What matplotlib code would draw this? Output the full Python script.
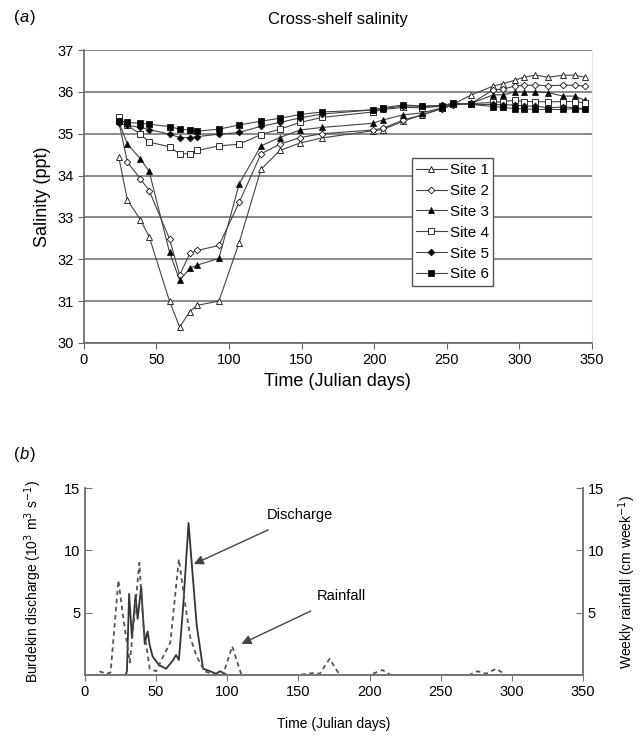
import matplotlib
matplotlib.use("Agg")
import matplotlib.pyplot as plt

plt.rcParams['font.family'] = ['Liberation Sans', 'DejaVu Sans']

# ---- panel (a): cross-shelf salinity ----
days = [24, 30, 39, 45, 59, 66, 73, 78, 93, 107, 122, 135, 149, 164,
        199, 206, 220, 233, 247, 254, 267, 282, 289, 297, 303, 311, 320, 330, 338, 345]

site1 = [34.45, 33.42, 32.94, 32.54, 31.0, 30.38, 30.75, 30.9, 31.0, 32.4, 34.15, 34.6, 34.78, 34.9,
         35.07, 35.1, 35.3, 35.45, 35.62, 35.7, 35.93, 36.14, 36.2, 36.28, 36.35, 36.4, 36.35, 36.4, 36.4, 36.35]
site2 = [35.3, 34.32, 33.92, 33.64, 32.49, 31.62, 32.14, 32.21, 32.33, 33.36, 34.52, 34.75, 34.91, 35.0,
         35.09, 35.13, 35.33, 35.45, 35.6, 35.68, 35.73, 36.05, 36.07, 36.14, 36.16, 36.16, 36.15, 36.16, 36.16, 36.14]
site3 = [35.3, 34.75, 34.4, 34.1, 32.17, 31.5, 31.78, 31.86, 32.02, 33.8, 34.71, 34.91, 35.09, 35.15,
         35.25, 35.33, 35.45, 35.5, 35.62, 35.7, 35.73, 35.93, 35.93, 36.0, 36.0, 36.0, 35.98, 35.9, 35.9, 35.8]
site4 = [35.4, 35.2, 34.99, 34.8, 34.69, 34.52, 34.52, 34.6, 34.71, 34.75, 34.98, 35.11, 35.27, 35.39,
         35.52, 35.58, 35.63, 35.62, 35.66, 35.72, 35.72, 35.75, 35.77, 35.8, 35.77, 35.77, 35.76, 35.77, 35.77, 35.73]
site5 = [35.25, 35.2, 35.15, 35.1, 34.99, 34.91, 34.91, 34.93, 34.99, 35.03, 35.18, 35.27, 35.38, 35.47,
         35.57, 35.6, 35.66, 35.66, 35.68, 35.72, 35.7, 35.7, 35.69, 35.69, 35.66, 35.66, 35.62, 35.64, 35.62, 35.6]
site6 = [35.3, 35.27, 35.25, 35.23, 35.17, 35.11, 35.09, 35.06, 35.11, 35.21, 35.3, 35.37, 35.46, 35.52,
         35.57, 35.62, 35.69, 35.66, 35.65, 35.74, 35.7, 35.65, 35.63, 35.6, 35.6, 35.58, 35.58, 35.58, 35.6, 35.58]

sites = [site1, site2, site3, site4, site5, site6]
site_names = ["Site 1", "Site 2", "Site 3", "Site 4", "Site 5", "Site 6"]
markers = [("^", "white", 4.8), ("D", "white", 3.4), ("^", "black", 4.8),
           ("s", "white", 4.5), ("D", "black", 3.4), ("s", "black", 4.8)]

# ---- panel (b): discharge and rainfall ----
dis_days = [0, 28.5, 29.5, 31, 33, 35.5, 37, 39.5, 42, 44, 45.5, 47.5, 52, 57, 62, 64, 66,
            69, 72.8, 75, 78.5, 83, 88, 92, 95, 100, 350]
dis_vals = [0, 0, 0.3, 6.5, 3.0, 6.4, 4.5, 7.1, 2.5, 3.5, 2.4, 1.5, 0.8, 0.5, 1.2, 1.6, 1.2,
            5.5, 12.2, 9.0, 4.0, 0.5, 0.3, 0.1, 0.3, 0, 0]

rain_days = [0, 8, 10, 15, 18, 23.5, 27, 31.5, 35, 38.2, 41, 45.5, 50, 55, 60, 66, 70, 74,
             78.5, 84, 92, 97, 103.5, 110, 150, 160, 165, 172, 179, 200, 209, 215,
             270, 276, 282, 289, 296, 350]
rain_vals = [0, 0, 0.3, 0.1, 0.2, 7.6, 4.5, 1.0, 5.0, 9.0, 4.0, 0.5, 0.3, 1.5, 2.6, 9.3, 6.0, 3.0,
             1.5, 0.3, 0, 0, 2.3, 0, 0, 0.15, 0.1, 1.3, 0, 0, 0.4, 0,
             0, 0.3, 0.1, 0.5, 0, 0]

fig = plt.figure(figsize=(6.4, 7.36), dpi=100)

ax = fig.add_axes([0.131, 0.534, 0.794, 0.398])
for vals, name, (m, fc, ms) in zip(sites, site_names, markers):
    ax.plot(days, vals, color="#444444", lw=0.8, marker=m, markersize=ms,
            markerfacecolor=fc, markeredgecolor="#111111", markeredgewidth=0.6, label=name)
ax.set_xlim(0, 350)
ax.set_ylim(30, 37)
ax.set_xticks(range(0, 351, 50))
ax.set_yticks(range(30, 38))
ax.grid(axis="y", color="#777777", lw=1.2)
ax.set_axisbelow(True)
for s in ["left", "bottom"]:
    ax.spines[s].set_color("#666666")
    ax.spines[s].set_linewidth(1.2)
ax.spines["top"].set_visible(False)
ax.spines["right"].set_color("#e6e6e6")
ax.tick_params(labelsize=10.5, color="#666666", length=4)
ax.set_ylabel("Salinity (ppt)", fontsize=13)
ax.set_xlabel("Time (Julian days)", fontsize=13)
ax.set_title("Cross-shelf salinity", fontsize=12, pad=19)
leg = ax.legend(loc="upper left", bbox_to_anchor=(0.645, 0.63), fontsize=11,
                frameon=True, fancybox=False, edgecolor="#555555", framealpha=1,
                handlelength=2.0, handletextpad=0.2, borderpad=0.3, labelspacing=0.45,
                borderaxespad=0)
fig.text(0.022, 0.976, "(", fontsize=12, va="center")
fig.text(0.031, 0.976, "a", fontsize=12, va="center", style="italic")
fig.text(0.047, 0.976, ")", fontsize=12, va="center")

bx = fig.add_axes([0.1328, 0.0829, 0.778, 0.254])
bx.plot(dis_days, dis_vals, color="#333333", lw=1.3)
bx2 = bx.twinx()
bx2.plot(rain_days, rain_vals, color="#555555", lw=1.3, ls=(0, (2.5, 2)))
for a in (bx, bx2):
    a.set_ylim(0, 15)
    a.set_yticks([5, 10, 15])
    a.spines["top"].set_visible(False)
    for s in ["left", "right", "bottom"]:
        a.spines[s].set_color("#777777")
        a.spines[s].set_linewidth(1.2)
    a.tick_params(axis="y", direction="in", labelsize=10.5, color="#777777", length=5)
bx.set_xlim(0, 350)
bx.set_xticks(range(0, 351, 50))
bx.tick_params(axis="x", labelsize=10.5, color="#777777", length=4)
bx.set_ylabel("Burdekin discharge (10$^3$ m$^3$ s$^{-1}$)", fontsize=10, labelpad=14)
bx2.set_ylabel("Weekly rainfall (cm week$^{-1}$)", fontsize=10, labelpad=9)
bx.set_xlabel("Time (Julian days)", fontsize=10, labelpad=13)

bx.annotate("Discharge", xy=(76.5, 8.9), xytext=(127.5, 12.8), fontsize=10.5, va="center",
            arrowprops=dict(arrowstyle="-|>", color="#444444", lw=1.0, shrinkA=8, shrinkB=0,
                            mutation_scale=14))
bx.annotate("Rainfall", xy=(110, 2.5), xytext=(163, 6.3), fontsize=10.5, va="center",
            arrowprops=dict(arrowstyle="-|>", color="#444444", lw=1.0, shrinkA=8, shrinkB=0,
                            mutation_scale=14))

fig.text(0.022, 0.382, "(", fontsize=12, va="center")
fig.text(0.031, 0.382, "b", fontsize=12, va="center", style="italic")
fig.text(0.047, 0.382, ")", fontsize=12, va="center")

fig.savefig("out.png", dpi=100)
